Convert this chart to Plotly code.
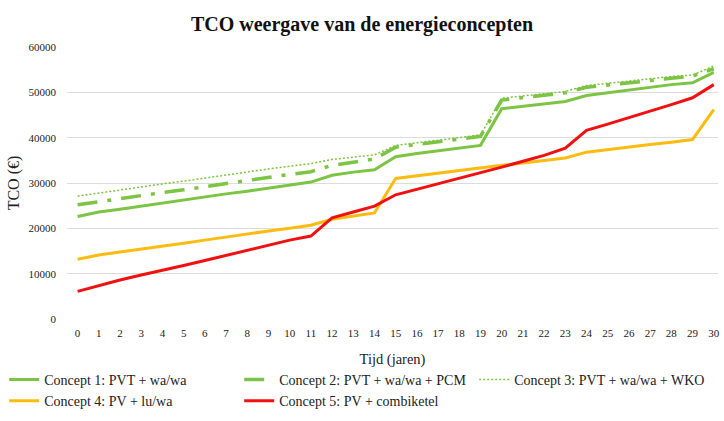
import plotly.graph_objects as go

years = list(range(31))
concept1 = [22600, 23600, 24200, 24900, 25600, 26200, 26900, 27600, 28200, 28900, 29600, 30200,
            31700, 32400, 32900, 35800, 36500, 37100, 37800, 38300, 46400, 46900, 47400, 48000,
            49300, 49900, 50500, 51100, 51700, 52100, 54400]
concept2 = [25200, 25900, 26500, 27200, 27900, 28500, 29200, 29900, 30500, 31200, 31900, 32500,
            33900, 34600, 35300, 37900, 38500, 39100, 39700, 40300, 48300, 48800, 49300, 49900,
            51100, 51600, 52200, 52700, 53200, 53600, 55200]
concept3 = [27100, 27800, 28400, 29100, 29800, 30400, 31100, 31800, 32400, 33100, 33700, 34300,
            35200, 35700, 36200, 38300, 38900, 39500, 40000, 40600, 48700, 49200, 49700, 50200,
            51500, 52000, 52500, 53000, 53500, 53800, 55800]
concept4 = [13200, 14100, 14800, 15400, 16100, 16700, 17400, 18100, 18700, 19400, 20000, 20700,
            22000, 22700, 23400, 31000, 31600, 32200, 32700, 33300, 33900, 34400, 34900, 35500,
            36800, 37400, 37900, 38500, 39000, 39600, 46200]
concept5 = [6100, 7400, 8600, 9700, 10700, 11800, 12900, 14000, 15100, 16300, 17400, 18300,
            22300, 23600, 24900, 27400, 28600, 29800, 31000, 32300, 33500, 34800, 36100, 37700,
            41600, 43000, 44400, 45900, 47300, 48800, 51700]
names = ["Concept 1: PVT + wa/wa", "Concept 2: PVT + wa/wa + PCM", "Concept 3: PVT + wa/wa + WKO",
         "Concept 4: PV + lu/wa", "Concept 5: PV + combiketel"]
y_ticks = [0, 10000, 20000, 30000, 40000, 50000, 60000]

GREEN = "#7cc444"
fig = go.Figure()
fig.add_trace(go.Scatter(x=years, y=concept1, name=names[0], mode="lines",
                         line=dict(color=GREEN, width=3)))
fig.add_trace(go.Scatter(x=years, y=concept2, name=names[1], mode="lines",
                         line=dict(color=GREEN, width=3.5, dash="20px,10px,4px,10px")))
fig.add_trace(go.Scatter(x=years, y=concept3, name=names[2], mode="lines",
                         line=dict(color=GREEN, width=1.5, dash="2px,2px")))
fig.add_trace(go.Scatter(x=years, y=concept4, name=names[3], mode="lines",
                         line=dict(color="#fbbb10", width=3)))
fig.add_trace(go.Scatter(x=years, y=concept5, name=names[4], mode="lines",
                         line=dict(color="#f01010", width=3)))

SERIF = "Liberation Serif"
L, R, T, B = 67, 4, 47, 101
W, H = 724, 421
PW, PH = W - L - R, H - T - B
fig.update_layout(
    width=W, height=H,
    margin=dict(l=L, r=R, t=T, b=B),
    paper_bgcolor="white", plot_bgcolor="white",
    font=dict(family=SERIF, color="#222", size=11),
    title=dict(text="<b>TCO weergave van de energieconcepten</b>", x=0.5, xanchor="center",
               y=1 - 24 / H, yanchor="middle", font=dict(family=SERIF, size=20, color="#111")),
    xaxis=dict(tickmode="array", tickvals=years, ticktext=[str(v) for v in years],
               range=[-0.5, 30.2], showgrid=False, zeroline=False, showline=False,
               tickfont=dict(family=SERIF, size=11), ticks="", ticklabelstandoff=6,
               title=dict(text="Tijd (jaren)", font=dict(family=SERIF, size=14.5), standoff=15)),
    yaxis=dict(tickvals=y_ticks, tickformat="d", range=[0, 60000], showgrid=True,
               gridcolor="#dcdcdc", gridwidth=1, zeroline=False, showline=False, ticks="",
               tickfont=dict(family=SERIF, size=11), ticklabelstandoff=10,
               title=dict(text="TCO (€)", font=dict(family=SERIF, size=16), standoff=4)),
    showlegend=True,
    legend=dict(orientation="h", x=(4 - L) / PW, y=(H - B - 365) / PH,
                xanchor="left", yanchor="top", entrywidth=190, entrywidthmode="pixels",
                font=dict(family=SERIF, size=14), itemwidth=30, tracegroupgap=0,
                bgcolor="rgba(0,0,0,0)"),
)
fig.write_html("out.html", config={"displayModeBar": False},
               post_script="document.body.style.margin='0';document.body.style.overflow='hidden';")
